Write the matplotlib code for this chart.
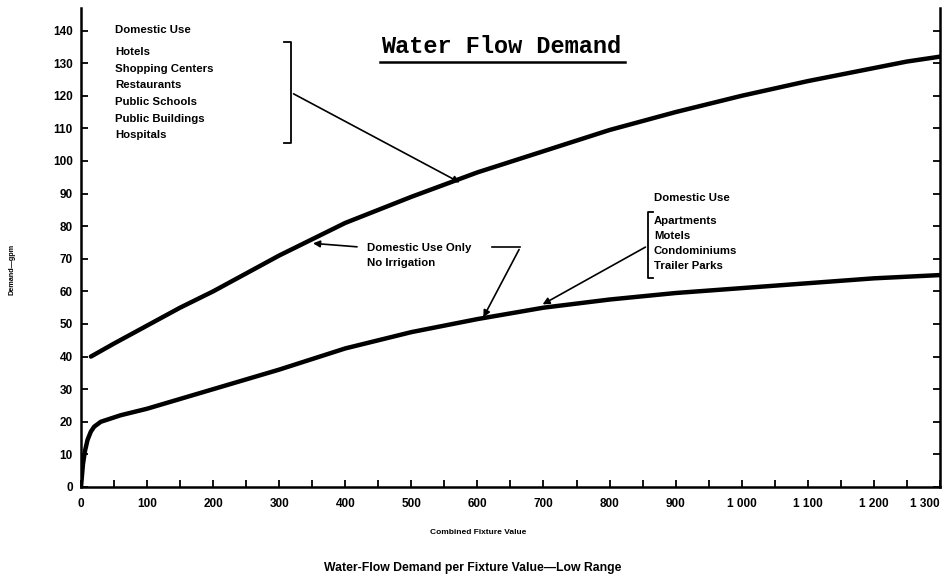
import matplotlib
matplotlib.use("Agg")
import matplotlib.pyplot as plt
from matplotlib.lines import Line2D

# --- data ---
upper_x = [15, 50, 100, 150, 200, 250, 300, 350, 400, 450, 500, 600, 700, 800, 900, 1000, 1100, 1200, 1250, 1300]
upper_y = [40, 44, 49.5, 55, 60, 65.5, 71, 76, 81, 85, 89, 96.5, 103, 109.5, 115, 120, 124.5, 128.5, 130.5, 132]

lower_x = [0, 3, 6, 10, 15, 20, 30, 45, 60, 100, 150, 200, 300, 400, 500, 600, 700, 800, 900, 1000, 1100, 1200, 1300]
lower_y = [0, 7, 11, 14.5, 17, 18.5, 20, 21, 22, 24, 27, 30, 36, 42.5, 47.5, 51.5, 55, 57.5, 59.5, 61, 62.5, 64, 65]

x_labels = ["0", "100", "200", "300", "400", "500", "600", "700", "800", "900",
            "1 000", "1 100", "1 200", "1 300"]
upper_list = ["Hotels", "Shopping Centers", "Restaurants", "Public Schools", "Public Buildings", "Hospitals"]
lower_list = ["Apartments", "Motels", "Condominiums", "Trailer Parks"]

plt.rcParams["font.family"] = ["Liberation Sans", "DejaVu Sans"]
FS = 8.2
ARROW = dict(arrowstyle="-|>", color="black", lw=1.2, mutation_scale=10)

fig = plt.figure(figsize=(9.46, 5.83), dpi=100)
ax = fig.add_axes([0.0856, 0.1647, 0.908, 0.822])

ax.plot(upper_x, upper_y, color="black", lw=3.2, solid_capstyle="round")
ax.plot(lower_x, lower_y, color="black", lw=3.2, solid_capstyle="round")

ax.set_xlim(0, 1300)
ax.set_ylim(0, 147)
ax.spines["top"].set_visible(False)
for s in ["left", "bottom", "right"]:
    ax.spines[s].set_linewidth(1.8)

ax.set_xticks(range(0, 1301, 100))
ax.set_xticks(range(0, 1301, 50), minor=True)
ax.set_xticklabels(x_labels, fontsize=8.5, fontweight="bold")
ax.get_xticklabels()[-1].set_ha("right")
ax.set_yticks(range(0, 141, 10))
ax.set_yticklabels([str(v) for v in range(0, 141, 10)], fontsize=8.5, fontweight="bold")
ax.tick_params(axis="x", which="both", direction="in", length=5, width=1.3, pad=8)
ax.tick_params(axis="y", which="both", direction="in", length=5, width=1.3, right=True, pad=6)

fig.text(0.505, 0.086, "Combined Fixture Value", ha="center", va="center",
         fontsize=6, fontweight="bold")
fig.text(0.013, 0.537, "Demand\u2014gpm", ha="center", va="center", rotation=90,
         fontsize=5.2, fontweight="bold")
fig.text(0.5, 0.026, "Water-Flow Demand per Fixture Value\u2014Low Range",
         ha="center", va="center", fontsize=8.8, fontweight="bold")

# title with underline
fig.text(0.53, 0.92, "Water Flow Demand", ha="center", va="center",
         fontsize=17, fontweight="bold", family="Liberation Mono")
fig.add_artist(Line2D([0.402, 0.661], [0.894, 0.894], color="black", lw=1.8))

# upper annotation block
ax.text(51.5, 140.2, "Domestic Use", fontsize=FS, fontweight="bold", va="center")
for i, name in enumerate(upper_list):
    ax.text(51.5, 133.4 - i * 5.1, name, fontsize=FS, fontweight="bold", va="center")
ax.plot([308, 318, 318, 308], [136.5, 136.5, 105.5, 105.5], color="black", lw=1.3)
ax.annotate("", xy=(577, 93), xytext=(318, 121), arrowprops=ARROW)

# middle annotation
ax.text(433, 73.3, "Domestic Use Only", fontsize=FS, fontweight="bold", va="center")
ax.text(433, 68.7, "No Irrigation", fontsize=FS, fontweight="bold", va="center")
ax.annotate("", xy=(347, 74.8), xytext=(422, 73.6), arrowprops=ARROW)
ax.plot([622, 665], [73.6, 73.6], color="black", lw=1.2)
ax.annotate("", xy=(607, 51.3), xytext=(665, 73.6), arrowprops=ARROW)

# lower annotation block
ax.text(867, 88.7, "Domestic Use", fontsize=FS, fontweight="bold", va="center")
for i, name in enumerate(lower_list):
    ax.text(867, 81.6 - i * 4.6, name, fontsize=FS, fontweight="bold", va="center")
ax.plot([866, 858, 858, 866], [84.4, 84.4, 64.1, 64.1], color="black", lw=1.3)
ax.annotate("", xy=(695, 55.6), xytext=(858, 74), arrowprops=ARROW)

fig.savefig("out.png", dpi=100)
